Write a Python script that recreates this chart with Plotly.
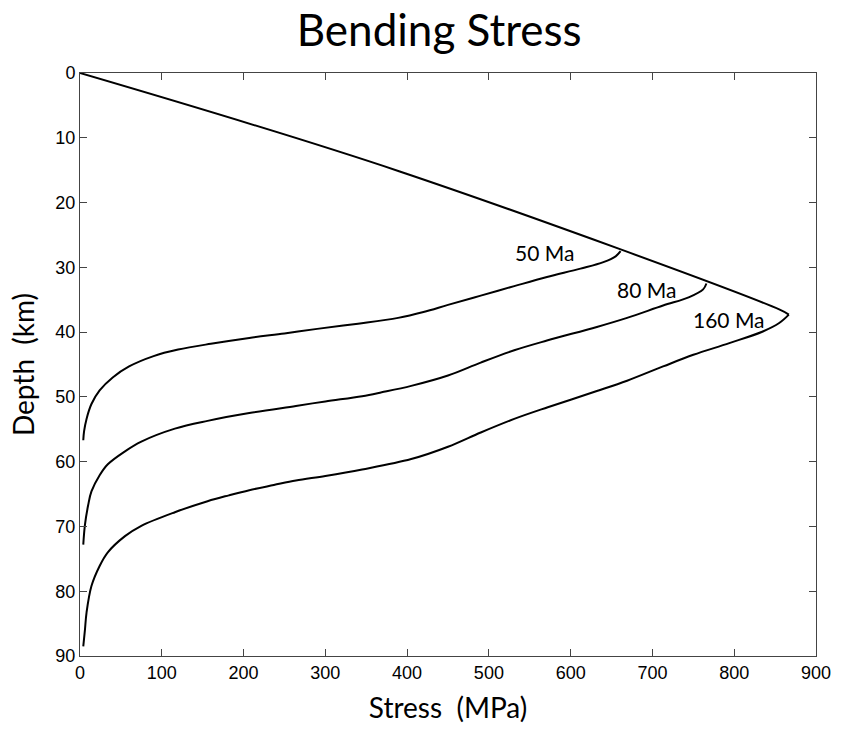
import plotly.graph_objects as go

# Brittle envelope (Stress MPa, Depth km)
env_stress = [0, 391, 855, 866.8]
env_depth = [0, 15.2, 36.5, 37.3]

ma50_stress = [661, 655, 640, 612, 571, 531, 489, 450, 420, 389, 340, 290, 250, 207, 160, 120, 90, 60, 40, 24, 14, 8, 5, 4]
ma50_depth = [27.5, 28.3, 29.2, 30.2, 31.5, 32.9, 34.4, 35.8, 36.9, 37.8, 38.7, 39.5, 40.2, 40.9, 41.8, 42.7, 43.7, 45.3, 47.0, 49.0, 51.1, 53.4, 55.3, 56.7]

ma80_stress = [766, 762, 745, 713, 669, 632, 571, 531, 490, 450, 405, 369, 345, 300, 264, 207, 156, 116, 75, 55, 34, 24, 14, 10, 6, 4]
ma80_depth = [32.5, 33.4, 34.6, 35.9, 37.8, 39.2, 41.3, 42.8, 44.7, 46.7, 48.3, 49.3, 49.9, 50.7, 51.4, 52.5, 53.7, 54.9, 56.9, 58.4, 60.4, 62.1, 64.6, 66.7, 69.8, 72.8]

ma160_stress = [866.8, 855, 835, 794, 750, 713, 669, 632, 572, 531, 490, 450, 405, 345, 300, 264, 237, 207, 182, 156, 116, 75, 55, 34, 24, 14, 8, 6, 4]
ma160_depth = [37.3, 38.6, 39.9, 41.7, 43.5, 45.3, 47.5, 49.1, 51.6, 53.4, 55.5, 57.7, 59.6, 61.2, 62.2, 62.9, 63.6, 64.4, 65.2, 66.1, 67.8, 69.9, 71.5, 74.0, 76.1, 79.2, 83.3, 86.0, 88.5]

labels = ["50 Ma", "80 Ma", "160 Ma"]
label_x = [568, 693, 794]
label_y = [27.7, 33.4, 38.0]

x_ticks = [0, 100, 200, 300, 400, 500, 600, 700, 800, 900]
y_ticks = [0, 10, 20, 30, 40, 50, 60, 70, 80, 90]

fig = go.Figure()
line = dict(color="black", width=2)
for xs, ys in [(env_stress, env_depth), (ma50_stress, ma50_depth),
               (ma80_stress, ma80_depth), (ma160_stress, ma160_depth)]:
    fig.add_trace(go.Scatter(x=xs, y=ys, mode="lines", line=line,
                             line_shape="spline", showlegend=False, hoverinfo="skip"))

for t, x, y in zip(labels, label_x, label_y):
    fig.add_annotation(x=x, y=y, text=t, showarrow=False,
                       font=dict(family="Lato", size=21, color="black"))

axis_common = dict(showline=True, linecolor="#444", linewidth=1, mirror="ticks",
                   ticks="inside", ticklen=7, tickcolor="#444", showgrid=False,
                   zeroline=False,
                   tickfont=dict(family="Liberation Sans, Arial", size=18, color="black"))

fig.update_layout(
    width=843, height=730,
    margin=dict(l=80, r=22, t=73, b=73),
    paper_bgcolor="white", plot_bgcolor="white",
    title=dict(text="Bending Stress", x=0.521, xanchor="center", y=0.958, yanchor="middle",
               font=dict(family="Lato", size=44, color="black")),
    xaxis=dict(range=[0, 900], tickvals=x_ticks,
               title=dict(text="Stress  (MPa)", font=dict(family="Lato", size=28, color="black"), standoff=16),
               **axis_common),
    yaxis=dict(range=[90, 0], tickvals=y_ticks,
               title=dict(text="Depth  (km)", font=dict(family="Lato", size=28, color="black"), standoff=12),
               **axis_common),
)

fig.write_html("out.html")
